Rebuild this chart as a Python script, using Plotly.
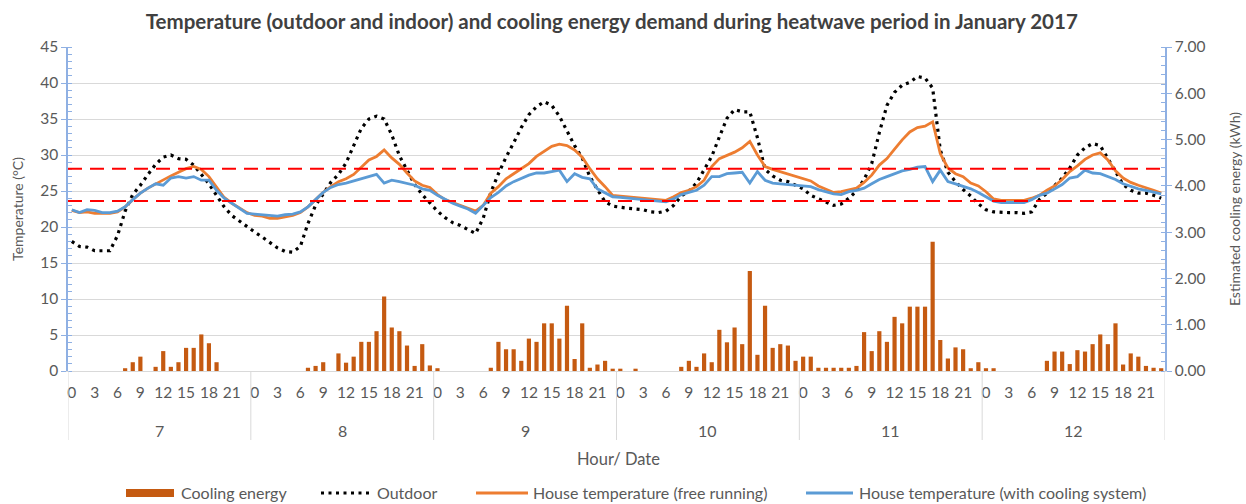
import plotly.graph_objects as go

# Hourly series, 7-12 January 2017 (24 values per day)
dates = ["7", "8", "9", "10", "11", "12"]
hour_ticks = [0, 3, 6, 9, 12, 15, 18, 21]

outdoor = [
    # 7
    18.0, 17.3, 17.2, 16.7, 16.7, 16.7, 18.8, 22.2, 24.5, 25.8, 27.3, 28.7,
    29.7, 30.0, 29.5, 29.4, 28.6, 27.3, 26.0, 24.4, 22.8, 21.6, 20.8, 20.0,
    # 8
    19.3, 18.6, 17.8, 17.1, 16.6, 16.5, 17.3, 20.5, 23.0, 24.6, 26.2, 27.3,
    28.9, 31.3, 33.7, 35.0, 35.4, 35.0, 32.8, 29.9, 27.8, 25.9, 24.5, 23.3,
    # 9
    22.2, 21.3, 20.6, 20.2, 19.7, 19.1, 21.2, 24.8, 27.4, 29.7, 31.7, 33.8,
    35.6, 36.7, 37.4, 36.9, 35.4, 33.4, 31.3, 29.6, 27.0, 25.2, 23.5, 22.9,
    # 10
    22.7, 22.6, 22.5, 22.4, 22.1, 22.0, 22.2, 23.0, 24.3, 25.0, 26.1, 27.9,
    29.8, 32.5, 35.1, 36.3, 36.0, 36.0, 32.4, 28.0, 27.1, 26.5, 26.3, 25.8,
    # 11
    25.3, 24.4, 23.9, 23.5, 23.0, 23.2, 24.0, 25.0, 26.6, 28.8, 33.1, 36.9,
    38.7, 39.7, 40.1, 40.9, 40.7, 39.3, 30.7, 27.6, 26.3, 25.2, 24.3, 23.2,
    # 12
    22.4, 22.1, 22.0, 22.0, 22.0, 21.9, 22.1, 23.8, 24.7, 25.8, 26.8, 28.2,
    30.0, 31.0, 31.6, 31.3, 29.6, 27.7, 25.9, 25.1, 24.7, 24.7, 24.4, 24.0,
]

free_running = [
    # 7
    22.3, 22.0, 22.1, 21.9, 21.9, 21.9, 22.1, 22.8, 23.8, 24.7, 25.4, 26.0,
    26.6, 27.1, 27.6, 28.1, 28.4, 28.0, 27.0, 25.5, 24.1, 23.3, 22.6, 22.0,
    # 8
    21.6, 21.5, 21.2, 21.2, 21.4, 21.6, 22.0, 22.8, 23.8, 24.8, 25.6, 26.3,
    26.7, 27.3, 28.3, 29.3, 29.8, 30.7, 29.6, 28.7, 27.5, 26.4, 25.8, 25.5,
    # 9
    24.5, 23.8, 23.4, 23.0, 22.5, 22.2, 23.0, 24.7, 25.6, 26.7, 27.4, 28.1,
    28.8, 29.8, 30.5, 31.2, 31.5, 31.3, 30.7, 29.7, 28.1, 26.7, 25.6, 24.4,
    # 10
    24.3, 24.2, 24.2, 24.1, 23.9, 23.8, 23.7, 24.2, 24.8, 25.1, 25.6, 26.5,
    28.4, 29.5, 29.9, 30.4, 31.0, 31.9, 30.0, 28.4, 28.0, 27.7, 27.3, 27.0,
    # 11
    26.8, 26.4, 25.7, 25.3, 24.8, 24.9, 25.1, 25.4, 26.2, 27.2, 28.6, 29.5,
    30.8, 32.1, 33.2, 33.8, 34.0, 34.6, 30.2, 28.2, 27.4, 27.0, 26.1, 25.7,
    # 12
    24.9, 23.9, 23.7, 23.7, 23.7, 23.7, 24.0, 24.4, 25.1, 25.7, 26.6, 27.7,
    28.5, 29.4, 30.0, 30.3, 29.3, 27.8, 26.8, 26.2, 25.8, 25.5, 25.1, 24.7,
]

with_cooling = [
    # 7
    22.4, 22.0, 22.4, 22.3, 22.0, 22.0, 22.2, 22.8, 23.8, 24.7, 25.4, 26.0,
    25.8, 26.8, 27.0, 26.8, 27.0, 26.5, 26.5, 25.1, 24.0, 23.3, 22.6, 21.9,
    # 8
    21.8, 21.7, 21.5, 21.5, 21.7, 21.8, 22.1, 22.8, 23.8, 24.8, 25.5, 25.9,
    26.1, 26.4, 26.7, 27.0, 27.3, 26.1, 26.5, 26.3, 26.1, 25.8, 25.3, 25.1,
    # 9
    24.4, 23.8, 23.3, 22.9, 22.5, 21.9, 23.0, 24.1, 24.8, 25.7, 26.3, 26.8,
    27.2, 27.5, 27.5, 27.7, 27.9, 26.3, 27.4, 26.9, 26.7, 25.3, 24.8, 24.2,
    # 10
    24.1, 24.0, 23.8, 23.8, 23.7, 23.5, 23.5, 23.9, 24.5, 24.8, 25.1, 25.8,
    27.0, 27.0, 27.4, 27.5, 27.6, 26.1, 27.7, 26.5, 26.1, 26.0, 25.9, 25.8,
    # 11
    25.8, 25.6, 25.2, 24.9, 24.6, 24.5, 24.9, 25.1, 25.4, 26.0, 26.6, 27.0,
    27.4, 27.8, 28.0, 28.3, 28.4, 26.3, 27.9, 26.3, 26.0, 25.7, 25.3, 24.8,
    # 12
    24.2, 23.6, 23.4, 23.4, 23.4, 23.4, 23.8, 24.4, 24.7, 25.3, 25.9, 26.8,
    27.0, 27.9, 27.5, 27.4, 27.0, 26.6, 26.0, 25.6, 25.3, 25.1, 24.9, 24.6,
]

cooling_energy = [
    # 7
    0, 0, 0, 0, 0, 0, 0, 0.06, 0.19, 0.31, 0, 0.09,
    0.43, 0.09, 0.19, 0.50, 0.50, 0.79, 0.60, 0.19, 0, 0, 0, 0,
    # 8
    0, 0, 0, 0, 0, 0, 0, 0.07, 0.11, 0.19, 0, 0.38,
    0.18, 0.31, 0.63, 0.63, 0.86, 1.61, 0.94, 0.86, 0.55, 0.11, 0.58, 0.12,
    # 9
    0.06, 0, 0, 0, 0, 0, 0, 0.07, 0.63, 0.47, 0.47, 0.22,
    0.70, 0.63, 1.03, 1.03, 0.70, 1.41, 0.26, 1.03, 0.07, 0.14, 0.22, 0.05,
    # 10
    0.05, 0, 0.05, 0, 0, 0, 0, 0, 0.09, 0.22, 0.09, 0.38,
    0.19, 0.89, 0.62, 0.94, 0.58, 2.16, 0.35, 1.41, 0.50, 0.58, 0.55, 0.22,
    # 11
    0.31, 0.31, 0.07, 0.07, 0.07, 0.07, 0.07, 0.11, 0.84, 0.43, 0.86, 0.63,
    1.17, 1.03, 1.39, 1.39, 1.39, 2.79, 0.67, 0.27, 0.51, 0.47, 0.06, 0.19,
    # 12
    0.06, 0.06, 0, 0, 0, 0, 0, 0, 0.22, 0.42, 0.42, 0.15,
    0.45, 0.42, 0.58, 0.79, 0.58, 1.03, 0.14, 0.38, 0.31, 0.11, 0.07, 0.06,
]

# Comfort band limits (°C)
comfort_upper = 28.1
comfort_lower = 23.6

series_names = [
    "Cooling energy",
    "Outdoor",
    "House temperature (free running)",
    "House temperature (with cooling system)",
]

FONT = "Lato"
TEXT = "#595959"
AXIS_BLUE = "#8FB0E3"
GRID = "#D9D9D9"
BAR_C = "#C55A11"
OUT_C = "#000000"
FREE_C = "#ED7D31"
COOL_C = "#5B9BD5"
OUT_DASH = "3px,4.5px"

# Figure geometry (pixels)
W, H = 1246, 504
ML, MR, MT, MB = 68, 81, 47, 133
PW, PH = W - ML - MR, H - MT - MB


def px_x(p):
    """Horizontal pixel position -> paper fraction."""
    return (p - ML) / PW


def px_y(p):
    """Vertical pixel position (from top) -> paper fraction."""
    return (H - MB - p) / PH


n = len(outdoor)
x = list(range(n))
tickvals = [d * 24 + h for d in range(len(dates)) for h in hour_ticks]
ticktext = [str(h) for _ in dates for h in hour_ticks]

fig = go.Figure()
fig.add_trace(go.Bar(
    x=x, y=cooling_energy, name=series_names[0], yaxis="y2",
    marker=dict(color=BAR_C, line=dict(width=0)), width=0.55,
))
fig.add_trace(go.Scatter(
    x=x, y=outdoor, name=series_names[1], mode="lines",
    line=dict(color=OUT_C, width=3.2, dash=OUT_DASH),
))
fig.add_trace(go.Scatter(
    x=x, y=free_running, name=series_names[2], mode="lines",
    line=dict(color=FREE_C, width=2.8),
))
fig.add_trace(go.Scatter(
    x=x, y=with_cooling, name=series_names[3], mode="lines",
    line=dict(color=COOL_C, width=2.8),
))

shapes = []
for yv in (comfort_upper, comfort_lower):
    shapes.append(dict(type="line", xref="x domain", yref="y", x0=0, x1=1, y0=yv, y1=yv,
                       line=dict(color="#FF0000", width=2, dash="14px,8px"), layer="above"))
# day separators below the hour axis
for d in range(len(dates) + 1):
    xv = d * 24 - 0.5
    shapes.append(dict(type="line", xref="x", yref="paper", x0=xv, x1=xv, y0=0, y1=px_y(440),
                       line=dict(color=GRID, width=1)))

annotations = []
for d, lab in enumerate(dates):
    annotations.append(dict(x=d * 24 + 11.5, y=px_y(430), xref="x", yref="paper", text=lab,
                            showarrow=False, font=dict(family=FONT, size=16, color=TEXT),
                            xanchor="center", yanchor="middle"))
annotations.append(dict(x=px_x(618), y=px_y(459), xref="paper", yref="paper", text="Hour/ Date",
                        showarrow=False, font=dict(family=FONT, size=16.5, color=TEXT),
                        xanchor="center", yanchor="middle"))

# Legend row along the bottom: swatch span and label start (pixels)
LEG_Y = 493
legend_items = [
    (series_names[0], 126, 174, 179),
    (series_names[1], 321, 370, 375),
    (series_names[2], 476, 528, 531),
    (series_names[3], 806, 853, 857),
]
for k, (label, s0, s1, t0) in enumerate(legend_items):
    if k == 0:
        shapes.append(dict(type="rect", xref="paper", yref="paper",
                           x0=px_x(s0), x1=px_x(s1), y0=px_y(LEG_Y + 4), y1=px_y(LEG_Y - 4),
                           fillcolor=BAR_C, line=dict(width=0)))
    else:
        style = {1: (OUT_C, 3.2, OUT_DASH), 2: (FREE_C, 2.8, "solid"), 3: (COOL_C, 2.8, "solid")}[k]
        shapes.append(dict(type="line", xref="paper", yref="paper",
                           x0=px_x(s0), x1=px_x(s1), y0=px_y(LEG_Y), y1=px_y(LEG_Y),
                           line=dict(color=style[0], width=style[1], dash=style[2])))
    annotations.append(dict(x=px_x(t0), y=px_y(LEG_Y), xref="paper", yref="paper", text=label,
                            showarrow=False, xanchor="left", yanchor="middle",
                            font=dict(family=FONT, size=16, color=TEXT)))

fig.update_layout(
    width=W, height=H,
    margin=dict(l=ML, r=MR, t=MT, b=MB, autoexpand=False),
    paper_bgcolor="white", plot_bgcolor="white",
    font=dict(family=FONT, size=15, color=TEXT),
    title=dict(text="<b>Temperature (outdoor and indoor) and cooling energy demand during heatwave period in January 2017</b>",
               x=0.491, xanchor="center", y=1 - 22 / H, yanchor="middle", yref="container",
               font=dict(family=FONT, size=20.5, color="#404040")),
    bargap=0.45,
    showlegend=False,
    xaxis=dict(range=[-0.5, n - 0.5], tickmode="array", tickvals=tickvals, ticktext=ticktext,
               showgrid=False, zeroline=False, showline=True, linecolor=GRID, linewidth=1,
               automargin=False,
               ticks="", ticklabelstandoff=7, tickfont=dict(family=FONT, size=15.5, color=TEXT)),
    yaxis=dict(range=[0, 45], dtick=5, showgrid=True, gridcolor=GRID, gridwidth=1, zeroline=False,
               showline=True, linecolor=AXIS_BLUE, linewidth=1.5, automargin=False,
               ticks="outside", ticklen=5, tickcolor=AXIS_BLUE,
               minor=dict(dtick=1, ticks="inside", ticklen=4, tickcolor=AXIS_BLUE, showgrid=False),
               title=dict(text="Temperature (°C)", font=dict(family=FONT, size=14, color=TEXT), standoff=13),
               tickfont=dict(family=FONT, size=15.5, color=TEXT)),
    yaxis2=dict(range=[0, 7], dtick=1, tickformat=".2f", overlaying="y", side="right",
                showgrid=False, zeroline=False, showline=True, linecolor=AXIS_BLUE, linewidth=1.5,
                automargin=False,
                ticks="outside", ticklen=5, tickcolor=AXIS_BLUE,
                minor=dict(dtick=0.2, ticks="inside", ticklen=4, tickcolor=AXIS_BLUE),
                title=dict(text="Estimated cooling energy (kWh)", font=dict(family=FONT, size=14, color=TEXT), standoff=26),
                tickfont=dict(family=FONT, size=15.5, color=TEXT)),
    shapes=shapes, annotations=annotations,
)

fig.write_html("out.html")
